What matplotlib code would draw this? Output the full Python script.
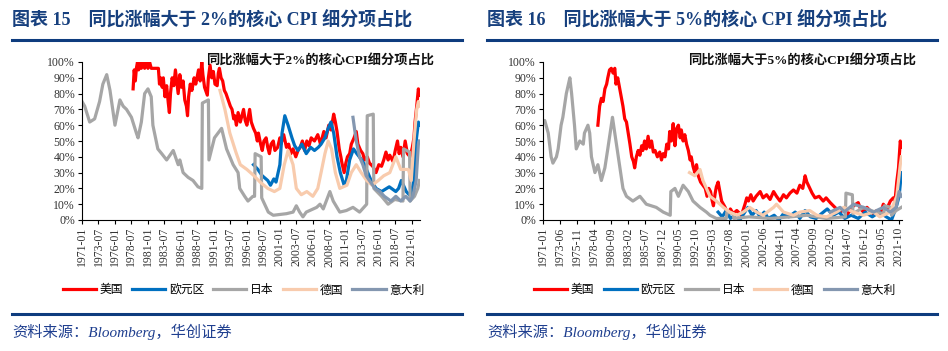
import pandas as pd
import matplotlib.pyplot as plt
from matplotlib.lines import Line2D

plt.rcParams['font.family'] = ['Liberation Serif', 'Noto Sans CJK SC']

# ---------------- 数据 (读图估计, 月份, %) ----------------
names = ['美国', '欧元区', '日本', '德国', '意大利']
colors = ['#FF0000', '#0070C0', '#A6A6A6', '#F8CBAD', '#8497B0']

# 图表15: 同比涨幅大于2%
us2 = [('1978-10', 83), ('1978-12', 95), ('1979-02', 88), ('1979-04', 96), ('1979-06', 100), ('1979-08', 95),
       ('1979-10', 100), ('1980-01', 96), ('1980-04', 100), ('1980-07', 96), ('1980-10', 100), ('1981-01', 96),
       ('1981-04', 100), ('1981-07', 96), ('1982-08', 96), ('1982-10', 86), ('1982-12', 90), ('1983-03', 84),
       ('1983-05', 90), ('1983-08', 78), ('1983-11', 85), ('1984-02', 74), ('1984-04', 68), ('1984-06', 80),
       ('1984-09', 90), ('1984-12', 85), ('1985-03', 95), ('1985-06', 86), ('1985-08', 80), ('1985-11', 92),
       ('1986-02', 84), ('1986-05', 88), ('1986-08', 76), ('1986-11', 72), ('1987-01', 66), ('1987-03', 78),
       ('1987-06', 86), ('1987-09', 82), ('1988-01', 90), ('1988-04', 86), ('1988-09', 95), ('1988-12', 88),
       ('1989-03', 100), ('1989-05', 92), ('1989-08', 84), ('1990-01', 79), ('1990-03', 90), ('1990-06', 98),
       ('1990-09', 90), ('1990-12', 94), ('1991-03', 86), ('1991-07', 85), ('1991-09', 93), ('1991-11', 96),
       ('1992-02', 90), ('1992-05', 88), ('1992-08', 82), ('1992-11', 80), ('1993-03', 76), ('1993-07', 72),
       ('1993-10', 70), ('1994-01', 64), ('1994-03', 66), ('1994-06', 60), ('1994-09', 68), ('1995-01', 62),
       ('1995-04', 66), ('1995-07', 70), ('1995-10', 63), ('1996-01', 60), ('1996-04', 66), ('1996-06', 70),
       ('1996-09', 62), ('1997-01', 58), ('1997-05', 55), ('1997-08', 50), ('1997-10', 55), ('1998-02', 48),
       ('1998-05', 44), ('1998-08', 50), ('1998-12', 52), ('1999-03', 46), ('1999-06', 42), ('1999-09', 48),
       ('2000-01', 50), ('2000-04', 44), ('2000-09', 46), ('2001-01', 52), ('2001-03', 48), ('2001-08', 54),
       ('2002-01', 46), ('2002-05', 48), ('2002-09', 42), ('2003-01', 45), ('2003-06', 40), ('2003-10', 44),
       ('2004-02', 46), ('2004-06', 50), ('2004-10', 44), ('2005-02', 50), ('2005-06', 47), ('2005-10', 52),
       ('2006-04', 50), ('2006-10', 54), ('2007-03', 48), ('2007-09', 56), ('2008-01', 52), ('2008-06', 60),
       ('2008-10', 57), ('2009-03', 67), ('2009-06', 62), ('2009-09', 56), ('2010-01', 45), ('2010-04', 40),
       ('2010-06', 36), ('2010-10', 30), ('2011-01', 36), ('2011-04', 40), ('2011-08', 42), ('2011-11', 48),
       ('2012-04', 52), ('2012-08', 56), ('2012-11', 48), ('2013-04', 44), ('2013-08', 42), ('2013-11', 38),
       ('2014-04', 40), ('2014-08', 36), ('2015-02', 34), ('2015-08', 30), ('2016-01', 35), ('2016-06', 34),
       ('2016-10', 38), ('2017-02', 43), ('2017-06', 38), ('2017-09', 41), ('2018-03', 37), ('2018-07', 44),
       ('2018-11', 50), ('2019-02', 42), ('2019-05', 46), ('2019-09', 40), ('2020-01', 50), ('2020-05', 42),
       ('2020-10', 40), ('2021-02', 46), ('2021-05', 52), ('2021-07', 62), ('2021-10', 72), ('2022-01', 83),
       ('2022-03', 79)]

ea2 = [('1997-01', 35), ('1997-09', 32), ('1998-05', 28), ('1999-03', 25), ('1999-08', 22), ('2000-02', 26),
       ('2000-06', 24), ('2001-01', 35), ('2001-05', 55), ('2001-10', 66), ('2002-04', 60), ('2002-11', 52),
       ('2003-04', 47), ('2003-10', 44), ('2004-05', 48), ('2005-01', 42), ('2005-09', 46), ('2006-04', 44),
       ('2006-11', 46), ('2007-04', 48), ('2007-11', 52), ('2008-05', 58), ('2008-10', 62), ('2009-03', 55),
       ('2009-09', 40), ('2010-03', 30), ('2010-10', 22), ('2011-02', 25), ('2011-08', 38), ('2012-03', 45),
       ('2012-09', 42), ('2013-06', 38), ('2013-11', 35), ('2014-05', 30), ('2014-11', 25), ('2015-08', 20),
       ('2016-06', 18), ('2017-08', 21), ('2018-08', 18), ('2019-01', 20), ('2019-06', 25), ('2020-03', 18),
       ('2020-11', 15), ('2021-05', 25), ('2021-09', 50), ('2022-01', 62), ('2022-03', 60)]

jp2 = [('1971-01', 75), ('1971-06', 72), ('1972-03', 62), ('1972-12', 64), ('1973-09', 75), ('1974-03', 86),
       ('1974-10', 92), ('1975-04', 82), ('1976-01', 60), ('1976-10', 76), ('1977-04', 72), ('1977-10', 70),
       ('1978-07', 65), ('1979-04', 55), ('1979-07', 52), ('1980-01', 62), ('1980-07', 80), ('1981-01', 83),
       ('1981-07', 78), ('1981-10', 60), ('1982-07', 45), ('1983-02', 42), ('1983-11', 38), ('1984-11', 44),
       ('1985-05', 38), ('1985-08', 35), ('1985-11', 38), ('1986-05', 30), ('1987-02', 27), ('1987-11', 25),
       ('1988-08', 21), ('1989-03', 20), ('1989-04', 74), ('1990-03', 76), ('1990-04', 38), ('1991-02', 52),
       ('1992-03', 58), ('1992-12', 45), ('1993-12', 35), ('1994-09', 30), ('1994-12', 20), ('1995-09', 15),
       ('1996-03', 12), ('1996-12', 15), ('1997-03', 15), ('1997-04', 42), ('1998-03', 40), ('1998-04', 14),
       ('1999-04', 5), ('2000-01', 3), ('2002-01', 4), ('2003-01', 5), ('2003-07', 9), ('2004-01', 5),
       ('2004-07', 2), ('2005-01', 5), ('2006-08', 8), ('2007-02', 10), ('2007-08', 7), ('2008-08', 18),
       ('2009-02', 12), ('2010-02', 5), ('2011-02', 6), ('2012-02', 8), ('2013-02', 5), ('2014-03', 10),
       ('2014-04', 66), ('2015-03', 67), ('2015-04', 20), ('2016-06', 15), ('2017-06', 10), ('2018-06', 13),
       ('2019-09', 12), ('2019-10', 45), ('2020-09', 43), ('2020-10', 12), ('2021-06', 15), ('2021-12', 20),
       ('2022-03', 25)]

de2 = [('1991-12', 82), ('1992-09', 70), ('1993-06', 55), ('1994-05', 43), ('1995-01', 35), ('1996-01', 32),
       ('1997-02', 28), ('1998-01', 24), ('1999-03', 20), ('2000-03', 18), ('2001-01', 20), ('2001-09', 35),
       ('2002-04', 44), ('2003-01', 35), ('2003-07', 20), ('2004-04', 16), ('2005-02', 18), ('2006-01', 15),
       ('2006-10', 20), ('2007-04', 30), ('2007-11', 42), ('2008-05', 50), ('2008-11', 45), ('2009-06', 30),
       ('2010-02', 20), ('2011-03', 22), ('2011-11', 30), ('2012-08', 35), ('2013-05', 30), ('2014-03', 25),
       ('2015-01', 22), ('2015-12', 25), ('2016-10', 28), ('2017-09', 30), ('2018-08', 40), ('2019-05', 32),
       ('2020-07', 32), ('2020-12', 25), ('2021-05', 50), ('2021-10', 70), ('2022-01', 75), ('2022-03', 72)]

it2 = [('2012-02', 65), ('2012-08', 50), ('2013-02', 40), ('2013-08', 35), ('2014-02', 28), ('2014-08', 25),
       ('2015-06', 20), ('2016-03', 18), ('2016-11', 15), ('2017-11', 12), ('2018-08', 15), ('2019-05', 12),
       ('2020-02', 15), ('2020-10', 12), ('2021-03', 15), ('2021-09', 25), ('2022-01', 48), ('2022-03', 50)]

# 图表16: 同比涨幅大于5%
us5 = [('1978-11', 60), ('1979-02', 72), ('1979-05', 77), ('1979-08', 75), ('1979-11', 83), ('1980-02', 86),
       ('1980-04', 90), ('1980-07', 95), ('1980-10', 96), ('1981-01', 93), ('1981-04', 96), ('1981-06', 86),
       ('1981-09', 90), ('1981-12', 84), ('1982-03', 78), ('1982-06', 72), ('1982-09', 64), ('1982-12', 62),
       ('1983-03', 55), ('1983-06', 48), ('1983-09', 40), ('1983-12', 37), ('1984-02', 33), ('1984-05', 40),
       ('1984-08', 44), ('1984-11', 41), ('1985-02', 47), ('1985-04', 44), ('1985-07', 50), ('1985-10', 45),
       ('1986-01', 53), ('1986-04', 46), ('1986-07', 50), ('1986-10', 43), ('1987-01', 44), ('1987-05', 40),
       ('1987-09', 43), ('1987-12', 38), ('1988-03', 42), ('1988-06', 40), ('1988-09', 48), ('1988-12', 45),
       ('1989-02', 56), ('1989-05', 50), ('1989-08', 61), ('1989-11', 47), ('1990-02', 58), ('1990-05', 60),
       ('1990-08', 52), ('1990-10', 57), ('1991-01', 50), ('1991-04', 54), ('1991-07', 48), ('1991-10', 44),
       ('1992-01', 38), ('1992-03', 40), ('1992-06', 34), ('1992-09', 30), ('1992-12', 35), ('1993-03', 28),
       ('1993-07', 24), ('1993-11', 22), ('1994-03', 20), ('1994-06', 15), ('1994-09', 20), ('1994-12', 18),
       ('1995-03', 12), ('1995-05', 9), ('1995-08', 17), ('1995-10', 21), ('1996-01', 24), ('1996-04', 18),
       ('1996-07', 12), ('1997-01', 8), ('1997-06', 3), ('1997-10', 7), ('1998-03', 4), ('1998-09', 6),
       ('1999-05', 3), ('1999-11', 10), ('2000-02', 14), ('2000-05', 12), ('2000-09', 16), ('2001-01', 12),
       ('2001-06', 15), ('2002-01', 18), ('2002-06', 14), ('2002-12', 16), ('2003-06', 13), ('2003-12', 18),
       ('2004-05', 15), ('2004-11', 12), ('2005-05', 16), ('2005-10', 14), ('2006-04', 17), ('2006-10', 19),
       ('2007-04', 17), ('2007-09', 22), ('2008-02', 20), ('2008-06', 28), ('2008-09', 24), ('2009-02', 20),
       ('2009-06', 17), ('2009-11', 14), ('2010-06', 15), ('2011-01', 12), ('2011-06', 14), ('2012-01', 11),
       ('2012-09', 8), ('2013-06', 5), ('2014-01', 7), ('2014-05', 3), ('2014-11', 6), ('2015-05', 9),
       ('2016-01', 11), ('2016-05', 7), ('2016-10', 5), ('2017-04', 8), ('2017-09', 6), ('2018-03', 4),
       ('2018-09', 6), ('2019-03', 4), ('2019-08', 10), ('2020-02', 7), ('2020-08', 12), ('2021-01', 14),
       ('2021-04', 12), ('2021-07', 24), ('2021-10', 33), ('2022-01', 50), ('2022-03', 46)]

ea5 = [('1996-01', 5), ('1996-08', 2), ('1997-03', 6), ('1997-10', 1), ('1998-06', 3), ('1999-02', 0),
       ('1999-09', 4), ('2000-04', 8), ('2000-11', 3), ('2001-06', 6), ('2002-01', 2), ('2002-08', 5),
       ('2003-03', 1), ('2004-01', 3), ('2004-09', 0), ('2005-05', 4), ('2006-02', 2), ('2007-01', 5),
       ('2007-09', 1), ('2008-06', 6), ('2009-03', 2), ('2010-01', 1), ('2010-10', 4), ('2011-08', 7),
       ('2012-06', 3), ('2013-04', 5), ('2014-02', 1), ('2015-01', 3), ('2016-01', 1), ('2017-01', 5),
       ('2018-01', 2), ('2019-01', 5), ('2020-01', 2), ('2020-10', 0), ('2021-06', 8), ('2021-11', 15),
       ('2022-03', 30)]

jp5 = [('1971-01', 62), ('1971-04', 63), ('1971-10', 55), ('1972-03', 40), ('1972-06', 36), ('1972-12', 40),
       ('1973-03', 45), ('1973-08', 60), ('1973-11', 65), ('1974-05', 80), ('1974-08', 85), ('1974-11', 90),
       ('1975-02', 80), ('1975-07', 60), ('1975-10', 45), ('1976-04', 50), ('1976-10', 48), ('1976-12', 55),
       ('1977-06', 60), ('1977-09', 55), ('1977-12', 40), ('1978-06', 30), ('1978-11', 35), ('1979-05', 25),
       ('1979-11', 33), ('1980-04', 45), ('1980-10', 60), ('1980-12', 65), ('1981-04', 55), ('1981-10', 40),
       ('1982-06', 20), ('1982-12', 15), ('1983-11', 12), ('1984-11', 15), ('1985-10', 10), ('1987-03', 8),
       ('1988-03', 5), ('1989-03', 3), ('1989-04', 18), ('1989-11', 20), ('1990-05', 15), ('1991-01', 22),
       ('1991-10', 18), ('1992-06', 12), ('1993-06', 8), ('1994-05', 5), ('1994-11', 3), ('1995-10', 1),
       ('1997-03', 1), ('1997-04', 5), ('1998-03', 4), ('1998-04', 1), ('2000-06', 2), ('2003-06', 1),
       ('2006-06', 2), ('2008-09', 3), ('2011-06', 1), ('2014-03', 2), ('2014-04', 17), ('2015-03', 16),
       ('2015-04', 4), ('2016-10', 8), ('2018-06', 5), ('2019-09', 4), ('2019-10', 9), ('2020-09', 8),
       ('2020-10', 3), ('2021-06', 6), ('2022-03', 8)]

de5 = [('1991-12', 30), ('1992-09', 28), ('1993-06', 32), ('1993-11', 25), ('1994-11', 15), ('1995-10', 12),
       ('1996-10', 8), ('1997-09', 5), ('1998-09', 3), ('1999-08', 5), ('2000-07', 8), ('2001-07', 5),
       ('2002-06', 3), ('2003-12', 8), ('2004-05', 10), ('2005-05', 5), ('2006-10', 3), ('2007-09', 5),
       ('2009-02', 6), ('2010-02', 3), ('2011-07', 2), ('2012-12', 5), ('2013-12', 8), ('2015-05', 5),
       ('2016-10', 3), ('2018-03', 5), ('2019-02', 2), ('2020-08', 5), ('2021-07', 15), ('2022-01', 35),
       ('2022-03', 40)]

it5 = [('2012-01', 5), ('2013-06', 8), ('2014-01', 5), ('2015-05', 10), ('2016-10', 8), ('2018-03', 5),
       ('2019-08', 8), ('2020-08', 5), ('2021-06', 8), ('2021-11', 18), ('2022-03', 15)]

panels = [
    dict(num='15', thr='2%', ticks_step='30MS', n_ticks=21, series=[us2, ea2, jp2, de2, it2]),
    dict(num='16', thr='5%', ticks_step='29MS', n_ticks=22, series=[us5, ea5, jp5, de5, it5]),
]

navy = '#17407E'
fig = plt.figure(figsize=(9.48, 3.51), dpi=100)

ax_rects = [[82 / 948, 131 / 351, 338 / 948, 158 / 351],
            [543 / 948, 131 / 351, 359 / 948, 158 / 351]]
x0s = [12 / 948, 487 / 948]
x1s = [462 / 948, 937 / 948]

for i, p in enumerate(panels):
    ax = fig.add_axes(ax_rects[i])
    for s, c, nm in zip(p['series'], colors, names):
        d, v = zip(*s)
        ax.plot(pd.to_datetime(list(d)), v, color=c, lw=2.3, label=nm)
    ax.set_ylim(0, 100)
    ax.set_xlim(pd.Timestamp('1971-01-01'), pd.Timestamp('2022-04-01'))
    ax.set_yticks(range(0, 101, 10))
    ax.set_yticklabels([f'{t}%' for t in range(0, 101, 10)], fontsize=8.5, color='#333333')
    ticks = pd.date_range('1971-01-01', periods=p['n_ticks'], freq=p['ticks_step'])
    ax.set_xticks(ticks)
    ax.set_xticklabels([t.strftime('%Y-%m') for t in ticks], rotation=90, fontsize=8.5, color='#333333')
    ax.tick_params(axis='both', direction='out', length=3, width=0.8, pad=2)
    ax.spines['top'].set_visible(False)
    ax.spines['right'].set_visible(False)
    for sp in ('left', 'bottom'):
        ax.spines[sp].set_linewidth(0.8)
    ax.text(1.04, 1.01, f'同比涨幅大于{p["thr"]}的核心CPI细分项占比', transform=ax.transAxes,
            ha='right', va='center', fontsize=9.5, fontweight='bold', color='#111111')

    cx = (ax_rects[i][0] + ax_rects[i][2] / 2) - 0.008
    fig.legend(*ax.get_legend_handles_labels(), loc='center', bbox_to_anchor=(cx, 1 - 290 / 351),
               ncol=5, frameon=False, handlelength=2.8, handletextpad=0.3, columnspacing=0.8,
               prop={'family': ['Noto Sans CJK SC'], 'size': 8.5})

    # 标题与分隔线
    fig.text(x0s[i], 1 - 20 / 351, f'图表 {p["num"]}    同比涨幅大于 {p["thr"]}的核心 CPI 细分项占比',
             ha='left', va='center', fontsize=13, fontweight='bold', color=navy)
    fig.add_artist(Line2D([x0s[i], x1s[i]], [1 - 40 / 351] * 2, color='#0E3C7E', lw=2.2))
    fig.add_artist(Line2D([x0s[i], x1s[i]], [1 - 314 / 351] * 2, color='#0E3C7E', lw=2.2))
    fig.text(x0s[i], 1 - 332 / 351, '资料来源：Bloomberg，华创证券', ha='left', va='center',
             fontsize=11, style='italic', color='#1F3F8F')

fig.savefig('out.png', dpi=100)
